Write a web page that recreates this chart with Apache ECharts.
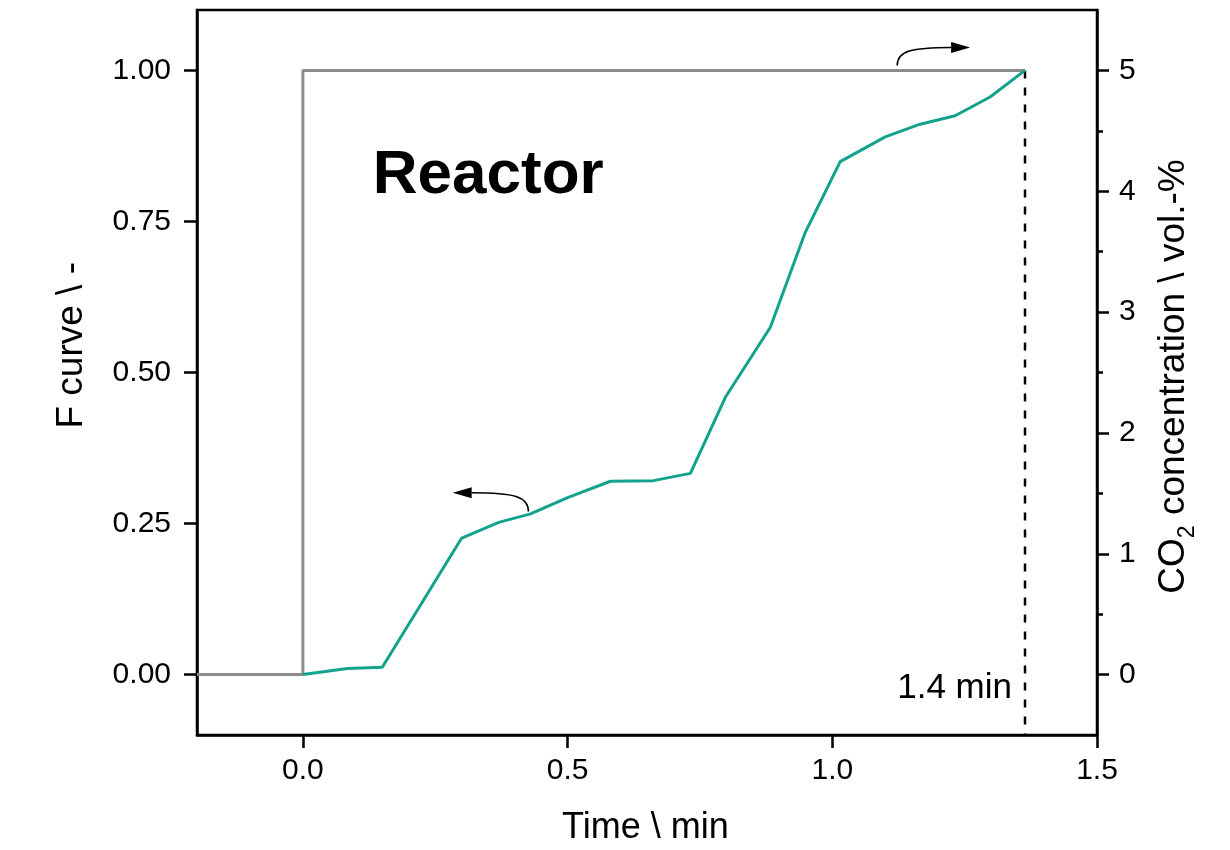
<!DOCTYPE html>
<html><head><meta charset="utf-8">
<script src="https://cdn.jsdelivr.net/npm/echarts@6/dist/echarts.min.js"></script>
<style>html,body{margin:0;padding:0;background:#fff}#c{width:1230px;height:850px}</style>
</head><body><div id="c"></div>
<script>
// ---- data ----
const time   = [0, 0.084, 0.150, 0.300, 0.370, 0.430, 0.500, 0.581, 0.662, 0.732, 0.798, 0.883, 0.949, 1.015, 1.100, 1.166, 1.232, 1.298, 1.364];
const fCurve = [0, 0.010, 0.012, 0.226, 0.252, 0.266, 0.293, 0.320, 0.321, 0.333, 0.459, 0.575, 0.732, 0.849, 0.890, 0.911, 0.925, 0.956, 1.000];
const stepTime = [-0.2, 0, 0, 1.364];
const stepCO2  = [0, 0, 5, 5];
const markerTime = 1.364;
const markerLabel = '1.4 min';
const xTicks = [0, 0.5, 1.0, 1.5];
const xTickLabels = ['0.0', '0.5', '1.0', '1.5'];
const leftTicks = [0, 0.25, 0.5, 0.75, 1.0];
const leftTickLabels = ['0.00', '0.25', '0.50', '0.75', '1.00'];
const rightTicks = [0, 1, 2, 3, 4, 5];
const rightTickLabels = ['0', '1', '2', '3', '4', '5'];
const rightMinorTicks = [0.5, 1.5, 2.5, 3.5, 4.5];
const xTitle = 'Time \\ min';
const leftTitle = 'F curve \\ -';
const panelTitle = 'Reactor';

const FONT = "'Liberation Sans', Arial, Helvetica, sans-serif";
const TEAL = '#13a38c';
const GRAY = '#8c8c8c';

const chart = echarts.init(document.getElementById('c'), null, {renderer: 'canvas'});

const lbl = (arr, ticks) => v => { const i = ticks.findIndex(t => Math.abs(t - v) < 1e-9); return i >= 0 ? arr[i] : ''; };

const axisLineStyle = {show: true, onZero: false, lineStyle: {color: '#000', width: 2.5}};
const tickStyle = {color: '#000', width: 2.5};
const option = {
  animation: false,
  backgroundColor: '#fff',
  grid: {left: 197, right: 133, top: 10, bottom: 115, show: true, borderColor: '#000', borderWidth: 2.5, backgroundColor: 'transparent', containLabel: false, outerBoundsMode: 'none'},
  xAxis: [{
    type: 'value', min: -0.2, max: 1.5, position: 'bottom',
    axisLine: axisLineStyle,
    axisTick: {show: true, inside: false, length: 13, lineStyle: tickStyle, customValues: xTicks},
    axisLabel: {show: true, margin: 21, color: '#000', fontSize: 30, fontFamily: FONT, customValues: xTicks, formatter: lbl(xTickLabels, xTicks)},
    splitLine: {show: false}, minorTick: {show: false}
  }],
  yAxis: [{
    type: 'value', min: -0.1, max: 1.1, position: 'left',
    axisLine: axisLineStyle,
    axisTick: {show: true, inside: false, length: 13, lineStyle: tickStyle, customValues: leftTicks},
    axisLabel: {show: true, margin: 26, color: '#000', fontSize: 30, fontFamily: FONT, customValues: leftTicks, formatter: lbl(leftTickLabels, leftTicks)},
    splitLine: {show: false}
  }, {
    type: 'value', min: -0.5, max: 5.5, position: 'right',
    axisLine: axisLineStyle,
    axisTick: {show: true, inside: false, length: 12, lineStyle: tickStyle, customValues: rightTicks},
    axisLabel: {show: true, margin: 22, color: '#000', fontSize: 30, fontFamily: FONT, customValues: rightTicks, formatter: lbl(rightTickLabels, rightTicks)},
    splitLine: {show: false}
  }, {
    type: 'value', min: -0.5, max: 5.5, position: 'right',
    axisLine: {show: false, onZero: false},
    axisTick: {show: true, inside: false, length: 6, lineStyle: tickStyle, customValues: rightMinorTicks},
    axisLabel: {show: false},
    splitLine: {show: false}
  }],
  series: [{
    type: 'line', name: 'CO2 step', xAxisIndex: 0, yAxisIndex: 1,
    data: stepTime.map((t, i) => [t, stepCO2[i]]),
    symbol: 'none', lineStyle: {color: GRAY, width: 3}, z: 2
  }, {
    type: 'line', name: 'F curve', xAxisIndex: 0, yAxisIndex: 0,
    data: time.map((t, i) => [t, fCurve[i]]),
    symbol: 'none', lineStyle: {color: TEAL, width: 3}, z: 3
  }, {
    type: 'line', name: 'marker', xAxisIndex: 0, yAxisIndex: 0,
    data: [[markerTime, 1.0], [markerTime, -0.1]],
    symbol: 'none', lineStyle: {color: '#000', width: 2.5, type: [8, 9]}, z: 1
  }]
};
chart.setOption(option);

const P = (x, y, yi) => chart.convertToPixel({xAxisIndex: 0, yAxisIndex: yi || 0}, [x, y]);

function arrow(from, to) {
  const S = P(from[0], from[1]);
  const T = P(to[0], to[1]);
  const dir = Math.sign(T[0] - S[0]);
  const head = 19, hw = 5.5;
  const bx = T[0] - dir * head;
  return [{
    type: 'bezierCurve', silent: true,
    shape: {x1: S[0], y1: S[1], cpx1: S[0], cpy1: T[1] + (S[1] - T[1]) * 0.2, cpx2: S[0] + dir * 14, cpy2: T[1], x2: bx, y2: T[1]},
    style: {stroke: '#000', lineWidth: 1.6, fill: null}
  }, {
    type: 'polygon', silent: true,
    shape: {points: [[T[0], T[1]], [bx, T[1] - hw], [bx, T[1] + hw]]},
    style: {fill: '#000'}
  }];
}

const gl = P(-0.2, 0)[0], gr = P(1.5, 0)[0], gb = P(0, -0.1)[1];
const reactorPos = P(0.134, 0.826);
const markerPos = P(markerTime, -0.0224);
const graphic = [
  ...arrow([0.426, 0.270], [0.283, 0.301]),
  ...arrow([1.1226, 1.008], [1.2604, 1.038]),
  {type: 'text', silent: true, x: reactorPos[0] - 1, y: reactorPos[1],
   style: {text: panelTitle, fontSize: 62, fontWeight: 'bold', fontFamily: FONT, fill: '#000', textAlign: 'left', textVerticalAlign: 'middle'}},
  {type: 'text', silent: true, x: markerPos[0] - 13, y: markerPos[1],
   style: {text: markerLabel, fontSize: 35, fontFamily: FONT, fill: '#000', textAlign: 'right', textVerticalAlign: 'middle'}},
  {type: 'text', silent: true, x: P(0.647, 0)[0], y: gb + 93,
   style: {text: xTitle, fontSize: 36, fontFamily: FONT, fill: '#000', textAlign: 'center', textVerticalAlign: 'middle'}},
  {type: 'text', silent: true, x: gl - 125, y: P(0, 0.545)[1], rotation: Math.PI / 2,
   style: {text: leftTitle, fontSize: 37, fontFamily: FONT, fill: '#000', textAlign: 'center', textVerticalAlign: 'middle'}},
  {type: 'text', silent: true, x: gr + 77, y: P(0, 2.467, 1)[1], rotation: Math.PI / 2,
   style: {text: '{n|CO}{s|2}{n| concentration \\ vol.-%}', fontSize: 37, fontFamily: FONT, fill: '#000', textAlign: 'center', textVerticalAlign: 'middle',
     rich: {n: {fontSize: 37, fontFamily: FONT, fill: '#000', color: '#000', lineHeight: 37},
            s: {fontSize: 23, fontFamily: FONT, fill: '#000', color: '#000', lineHeight: 23, padding: [28, 0, 0, 0]}}}}
];
chart.setOption({graphic: graphic});
</script>
</body></html>
